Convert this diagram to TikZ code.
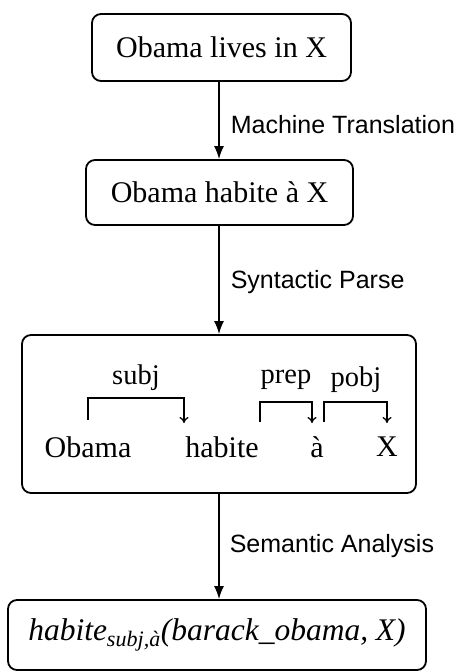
\documentclass[tikz,border=0pt]{standalone}
\usepackage{fontspec}
\setmainfont{Liberation Serif}
\setsansfont{Liberation Sans}
\usetikzlibrary{arrows.meta}
\begin{document}
\begin{tikzpicture}[x=1pt,y=-1pt,
  stagebox/.style={draw,line width=1.8pt,rounded corners=9pt,inner sep=0pt,
    font=\fontsize{30}{36}\selectfont},
  flow/.style={line width=1.6pt,-{Latex[length=13pt,width=10pt]}},
  steplabel/.style={anchor=west,inner sep=0pt,font=\sffamily\fontsize{25}{29}\selectfont},
  word/.style={inner sep=0pt,font=\fontsize{30}{36}\selectfont},
  deplabel/.style={inner sep=0pt,font=\fontsize{28.5}{32}\selectfont},
  dep/.style={line width=1.3pt,-{To[length=6pt,width=9pt]}}]
\useasboundingbox (0,0) rectangle (459,672);

% pipeline stages
\node[stagebox,minimum width=259pt,minimum height=67pt] (src) at (221.5,47.5) {Obama lives in X};
\node[stagebox,minimum width=267pt,minimum height=65pt] (fr) at (219.5,192.5) {Obama habite à X};
\node[stagebox,minimum width=394pt,minimum height=158pt] (parse) at (219,414) {};
\node[stagebox,minimum width=418pt,minimum height=70pt,font=\fontsize{31.5}{36}\selectfont] (lf) at (217,635)
  {\itshape habite\textsubscript{subj,à}(barack\_obama, X)};

% transitions between stages
\draw[flow] (src.south -| 219,0) -- (fr.north -| 219,0)
  node[steplabel,pos=0.55,xshift=11pt] (mt) {Machine Translation};
\draw[flow] (fr.south -| 219,0) -- (parse.north -| 219,0)
  node[steplabel,pos=0.52,xshift=11pt] (sp) {Syntactic Parse};
\draw[flow] (parse.south -| 219,0) -- (lf.north -| 219,0)
  node[steplabel,pos=0.5,xshift=10pt] (sa) {Semantic Analysis};

% dependency parse inside the parse box
\node[word] (w1) at (88,447) {Obama};
\node[word] (w2) at (222,447) {habite};
\node[word] (w3) at (317,447) {à};
\node[word] (w4) at (387,447) {X};

\coordinate (s1) at (88,420);  \coordinate (s2) at (184,423);
\coordinate (p1) at (260,422); \coordinate (p2) at (312,423);
\coordinate (o1) at (324,422); \coordinate (o2) at (387,423);

\draw[dep] (s1) |- (136,398) -| (s2);
\draw[dep] (p1) |- (286,402) -| (p2);
\draw[dep] (o1) |- (355,402) -| (o2);

\node[deplabel] (l1) at (136,378) {subj};
\node[deplabel] (l2) at (286,380) {prep};
\node[deplabel] (l3) at (356,380) {pobj};
\end{tikzpicture}
\end{document}
